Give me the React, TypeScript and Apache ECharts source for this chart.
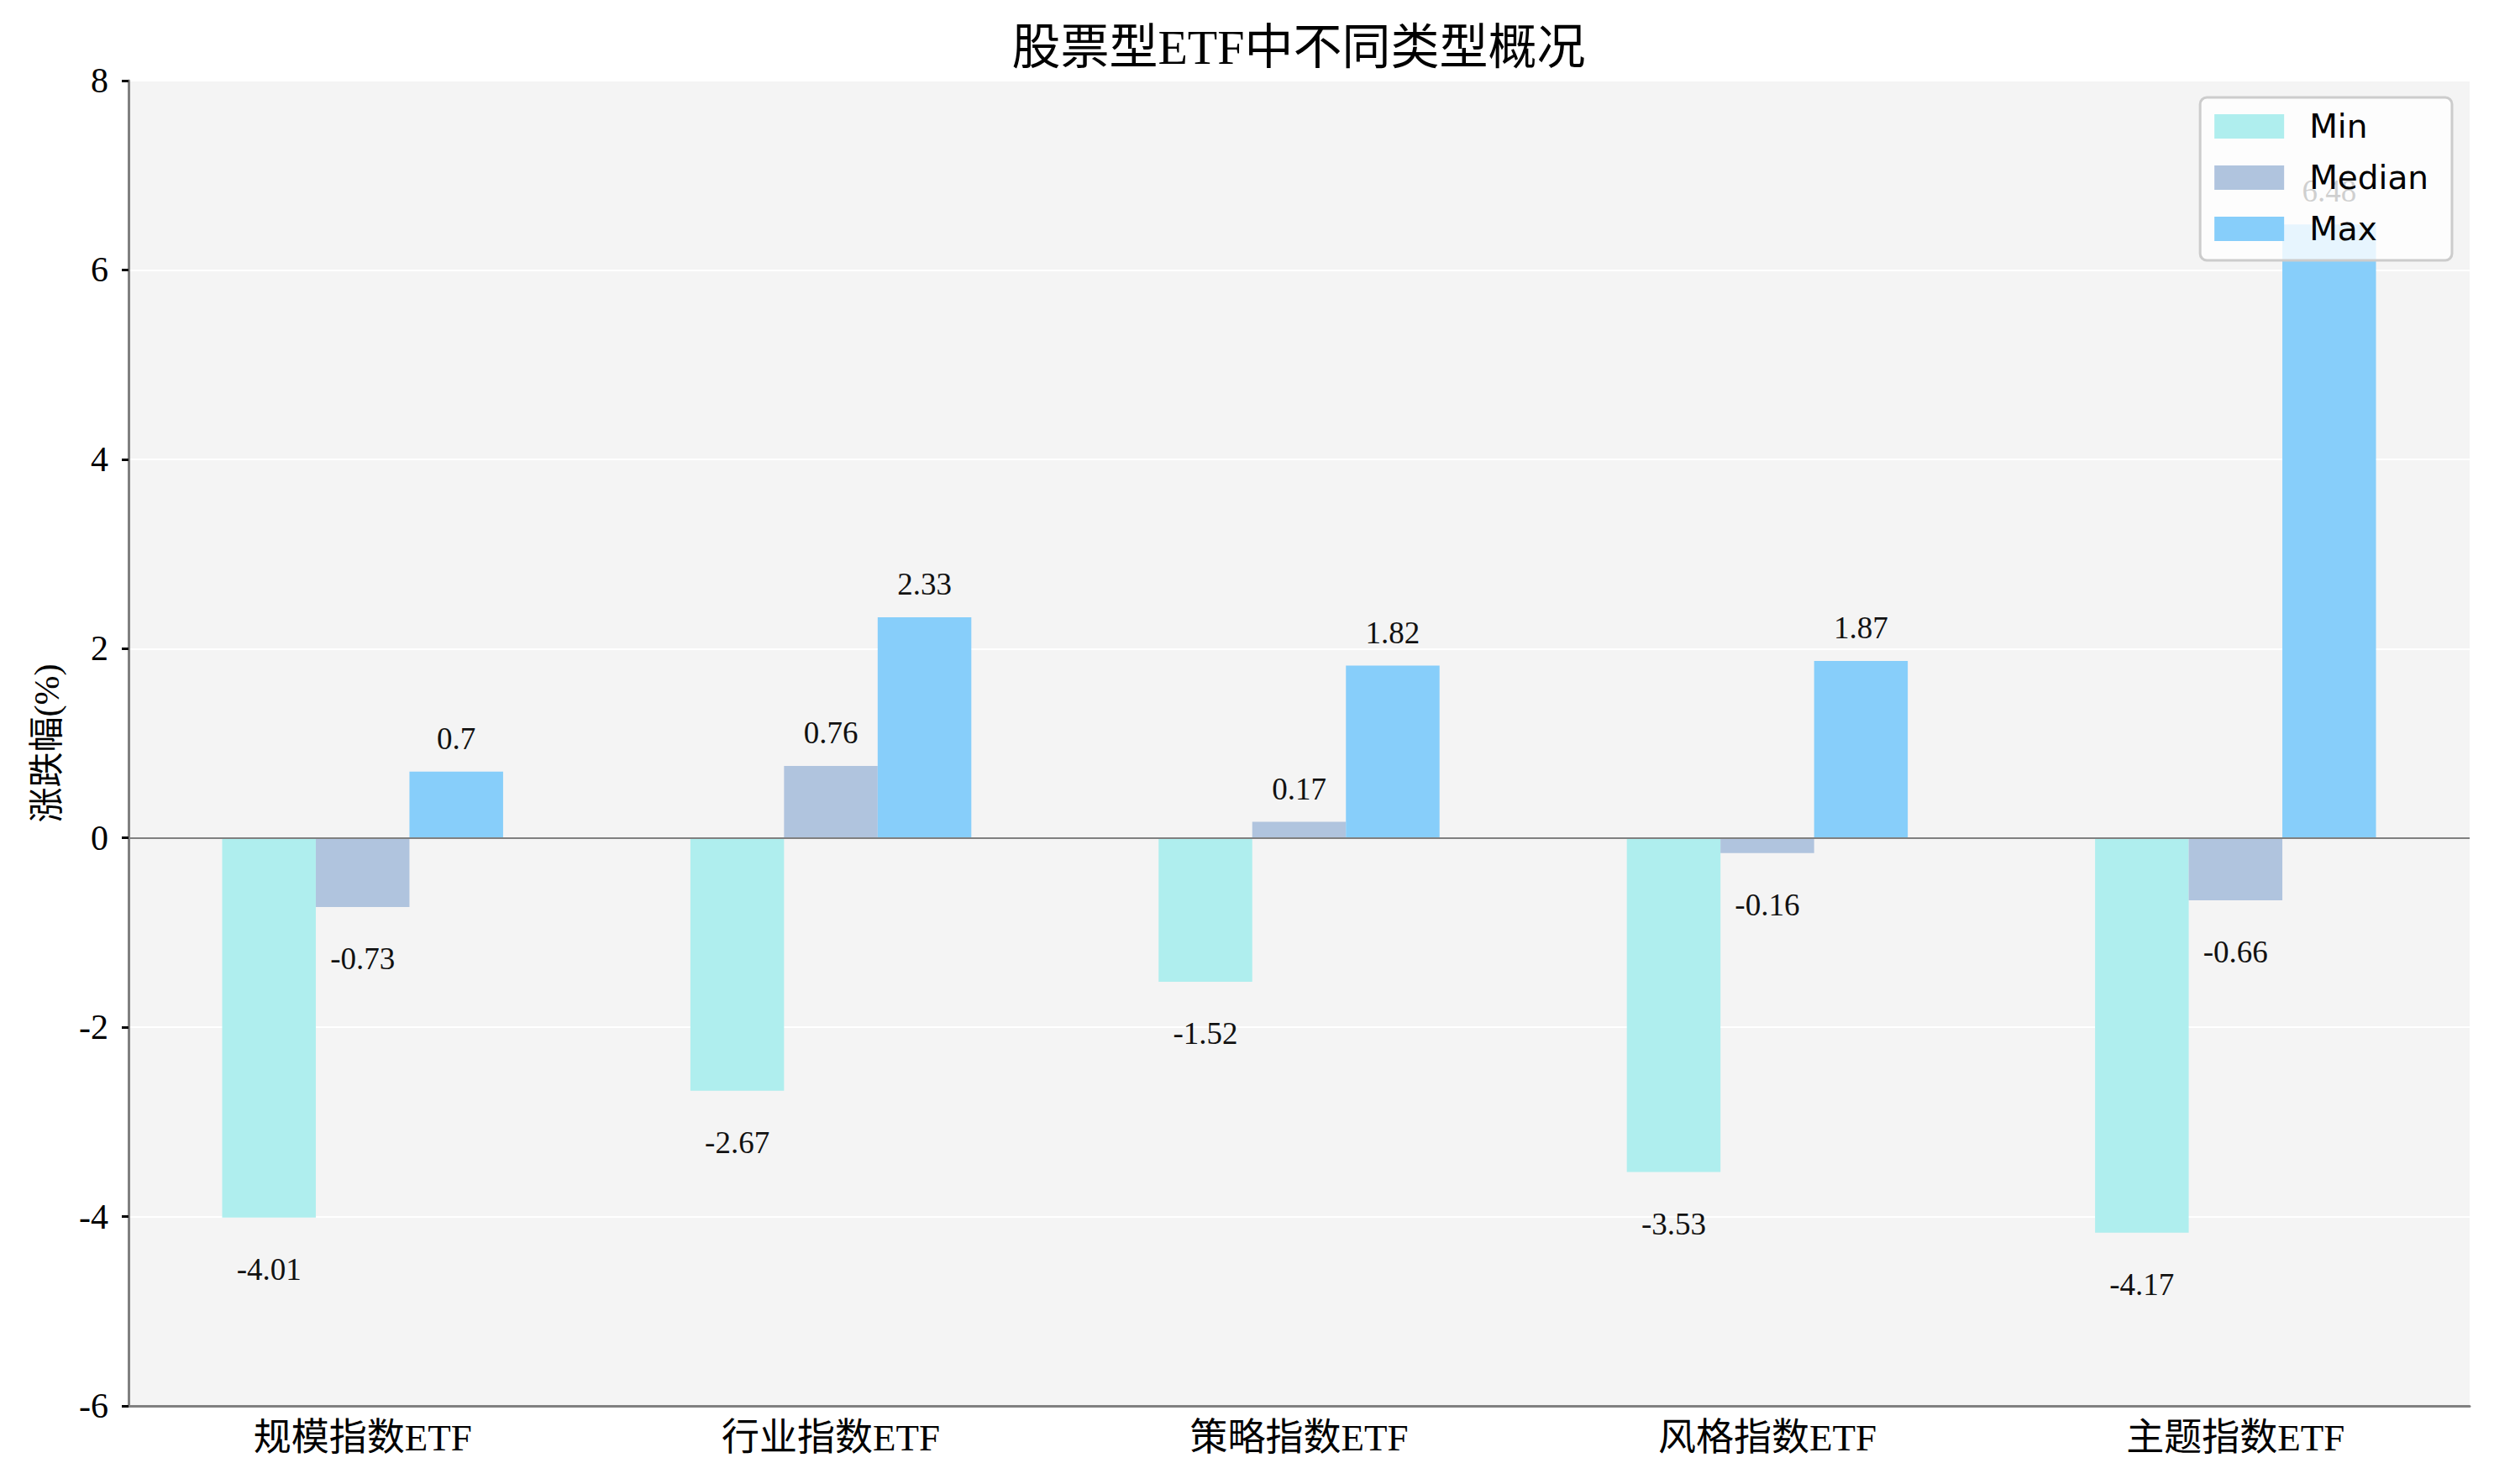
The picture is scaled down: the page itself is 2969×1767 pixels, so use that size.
import { useEffect, useRef } from "react";
import * as echarts from "echarts";

const categories = ["规模指数ETF", "行业指数ETF", "策略指数ETF", "风格指数ETF", "主题指数ETF"];
const minValues = [-4.01, -2.67, -1.52, -3.53, -4.17];
const medianValues = [-0.73, 0.76, 0.17, -0.16, -0.66];
const maxValues = [0.7, 2.33, 1.82, 1.87, 6.48];
const seriesNames = ["Min", "Median", "Max"];
const seriesColors = ["#AFEEEE", "#B0C4DE", "#87CEFA"];
const yMin = -6;
const yMax = 8;
const yStep = 2;

const SERIF = "'Liberation Serif', 'Noto Sans CJK SC', serif";

// 正の値はバーの上、負の値はバーの下にラベル
function withLabels(values: number[]) {
  return values.map((v) => ({
    value: v,
    label: {
      position: v >= 0 ? "top" : "bottom",
      distance: v >= 0 ? 21 : 43,
    },
  }));
}

export default function App() {
  const ref = useRef<HTMLDivElement>(null);

  useEffect(() => {
    if (!ref.current) return;
    const chart = echarts.init(ref.current, undefined, { renderer: "svg" });

    const data = [minValues, medianValues, maxValues];

    chart.setOption({
      animation: false,
      backgroundColor: "#ffffff",
      graphic: [
        {
          type: "text",
          x: 1546,
          y: 56,
          style: {
            text: "股票型ETF中不同类型概况",
            fill: "#000",
            fontSize: 58,
            fontFamily: SERIF,
            align: "center",
            verticalAlign: "middle",
            textAlign: "center",
            textVerticalAlign: "middle",
          },
        },
      ],
      grid: {
        left: 153,
        right: 29,
        top: 96,
        bottom: 93,
        show: true,
        backgroundColor: "#f4f4f4",
        borderWidth: 0,
      },
      legend: {
        data: seriesNames,
        orient: "vertical",
        right: 50,
        top: 116,
        icon: "rect",
        itemWidth: 83,
        itemHeight: 29,
        itemGap: 22,
        padding: [15, 28, 18, 17],
        backgroundColor: "rgba(255,255,255,0.8)",
        borderColor: "#cccccc",
        borderWidth: 3,
        borderRadius: 8,
        textStyle: {
          fontFamily: "'DejaVu Sans', sans-serif",
          fontSize: 39,
          color: "#000",
          padding: [0, 0, 0, 25],
        },
      },
      xAxis: {
        type: "category",
        data: categories,
        axisLine: { onZero: false, lineStyle: { color: "#808080", width: 3 } },
        axisTick: {
          alignWithLabel: true,
          length: 8,
          lineStyle: { color: "#000", width: 3 },
        },
        axisLabel: {
          fontSize: 45,
          fontFamily: SERIF,
          color: "#000",
          margin: 15,
        },
        splitLine: { show: false },
      },
      yAxis: {
        type: "value",
        min: yMin,
        max: yMax,
        interval: yStep,
        name: "涨跌幅(%)",
        nameLocation: "middle",
        nameRotate: 90,
        nameGap: 76,
        nameTextStyle: { fontSize: 42, fontFamily: SERIF, color: "#000" },
        axisLine: { show: true, lineStyle: { color: "#808080", width: 3 } },
        axisTick: { show: true, length: 8, lineStyle: { color: "#000", width: 3 } },
        axisLabel: { fontSize: 42, fontFamily: SERIF, color: "#000", margin: 24 },
        splitLine: { show: true, lineStyle: { color: "#ffffff", width: 2 } },
      },
      series: seriesNames.map((name, i) => ({
        name,
        type: "bar",
        barWidth: "20%",
        barGap: "0%",
        itemStyle: { color: seriesColors[i] },
        label: {
          show: true,
          color: "#111",
          fontSize: 37,
          fontFamily: SERIF,
        },
        data: withLabels(data[i]),
        ...(i === 0
          ? {
              markLine: {
                silent: true,
                symbol: ["none", "none"],
                label: { show: false },
                lineStyle: { color: "#808080", width: 2, type: "solid" },
                data: [{ yAxis: 0 }],
              },
            }
          : {}),
      })),
    });

    return () => chart.dispose();
  }, []);

  return (
    <div
      ref={ref}
      style={{ position: "absolute", left: 0, top: 0, width: 2969, height: 1767 }}
    />
  );
}
